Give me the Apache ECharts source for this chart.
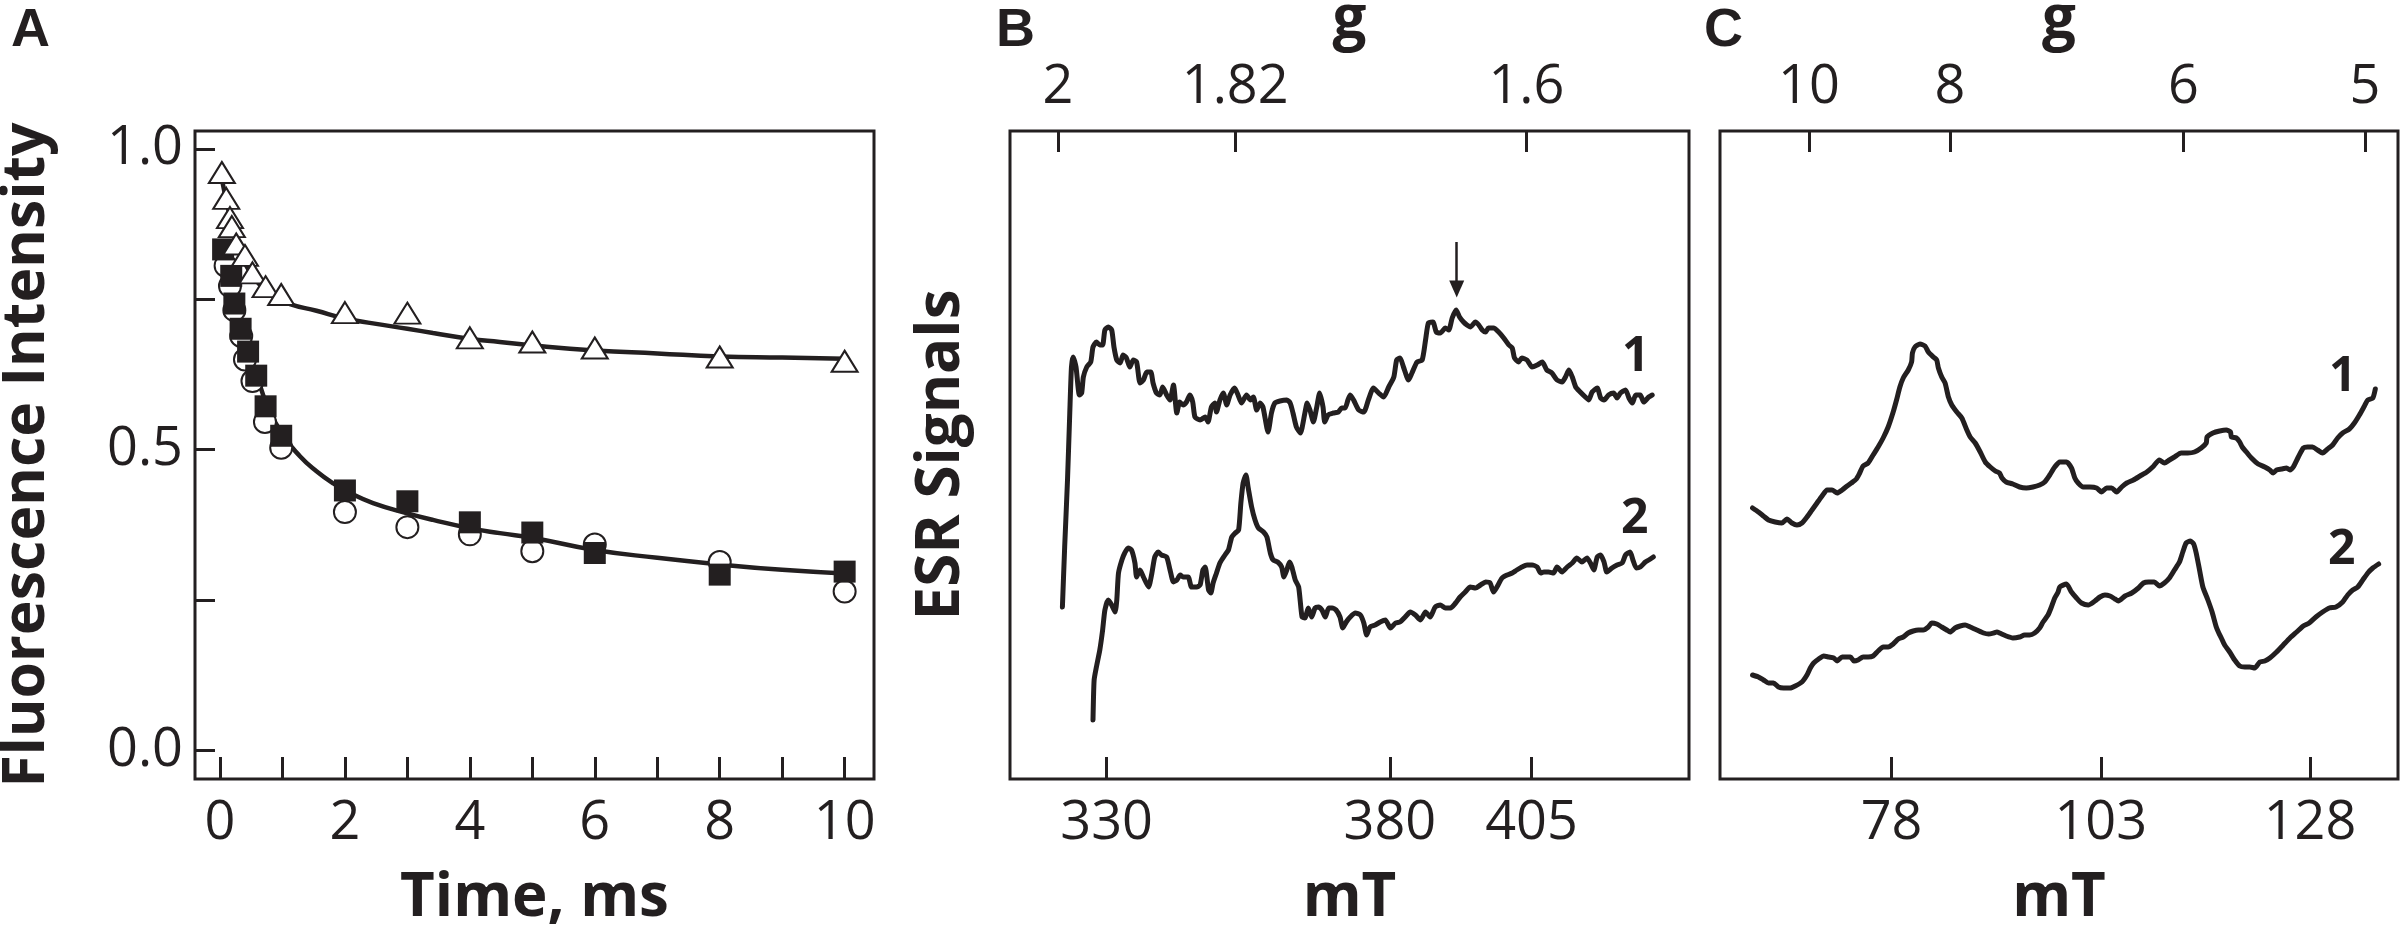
<!DOCTYPE html>
<html>
<head>
<meta charset="utf-8">
<script src="https://cdn.jsdelivr.net/npm/echarts@6/dist/echarts.min.js"></script>
<style>
html,body{margin:0;padding:0;background:#fff;}
#chart{width:2400px;height:937px;}
</style>
</head>
<body>
<div id="chart"></div>
<script>
// ---------- Panel A data ----------
const triT  = [0.03, 0.1, 0.16, 0.19, 0.26, 0.4, 0.52, 0.73, 0.98, 2, 3, 4, 5, 6, 8, 10];
const triV  = [0.961, 0.918, 0.886, 0.871, 0.842, 0.823, 0.794, 0.771, 0.758, 0.728, 0.727, 0.686, 0.679, 0.669, 0.654, 0.647];
const sqT   = [0.05, 0.18, 0.23, 0.33, 0.45, 0.58, 0.73, 0.98, 2, 3, 4, 5, 6, 8, 10];
const sqV   = [0.833, 0.789, 0.743, 0.701, 0.663, 0.623, 0.572, 0.523, 0.432, 0.414, 0.379, 0.362, 0.328, 0.292, 0.297];
const circT = [0.09, 0.16, 0.23, 0.34, 0.40, 0.52, 0.72, 0.98, 2, 3, 4, 5, 6, 8, 10];
const circV = [0.806, 0.772, 0.732, 0.689, 0.650, 0.614, 0.546, 0.503, 0.396, 0.371, 0.359, 0.331, 0.342, 0.313, 0.264];
const fitTopT = [0.03, 0.1, 0.2, 0.3, 0.4, 0.55, 0.75, 1.0, 1.12, 1.545, 1.97, 2.45, 3.0, 3.41, 4.01, 4.48, 5.02, 6, 7, 8, 9, 10];
const fitTopV = [0.95, 0.915, 0.87, 0.835, 0.81, 0.785, 0.765, 0.75, 0.742, 0.731, 0.719, 0.710, 0.701, 0.694, 0.684, 0.679, 0.673, 0.665, 0.66, 0.655, 0.653, 0.651];
const fitBotT = [0.05, 0.15, 0.25, 0.35, 0.45, 0.6, 0.75, 1.0, 1.28, 1.545, 1.81, 2.08, 2.45, 3.0, 3.41, 4.01, 4.48, 5.02, 6, 7, 8, 9, 10];
const fitBotV = [0.83, 0.79, 0.745, 0.70, 0.665, 0.62, 0.575, 0.525, 0.489, 0.464, 0.444, 0.428, 0.411, 0.394, 0.383, 0.369, 0.361, 0.353, 0.333, 0.32, 0.309, 0.30, 0.294];
const aXTicks = [0,1,2,3,4,5,6,7,8,9,10];
const aXLabels = [0,2,4,6,8,10];
const aYTicks = [0,0.25,0.5,0.75,1.0];
const aYLabels = [0,0.5,1.0];

// ---------- Panel B data (field mT, signal a.u.) ----------
const esrB1 = [[322.2,17.2],[322.6,23.2],[323.1,29.9],[323.5,36.6],[323.8,41.2],[324.1,42.2],[324.6,41.2],[325.2,38.4],[325.6,38.6],[325.9,40.2],[326.5,41.2],[327.2,41.7],[327.6,43.2],[328.2,43.7],[328.8,43.4],[329.3,43.4],[329.7,44.9],[330.3,45.2],[330.9,44.9],[331.3,43.2],[331.8,41.9],[332.4,41.6],[332.9,42.4],[333.5,42.1],[334.1,41.2],[334.7,41.9],[335.3,41.7],[335.9,39.6],[336.5,39.9],[337.1,40.7],[337.8,40.7],[338.2,39.6],[338.8,38.6],[339.4,38.4],[339.9,39.2],[340.6,38.4],[341.2,37.9],[341.8,39.4],[342.4,36.6],[342.9,37.7],[343.5,37.4],[344.1,37.7],[344.7,38.4],[345.2,37.7],[345.6,36.2],[346.5,35.9],[347.4,36.2],[347.9,35.7],[348.5,37.2],[349.1,37.6],[349.4,36.7],[350.0,37.9],[350.6,38.6],[351.2,37.4],[351.8,38.4],[352.6,39.1],[353.2,38.4],[353.8,37.6],[354.7,38.4],[355.4,37.9],[355.9,38.2],[356.5,36.9],[357.1,37.6],[357.6,37.2],[358.5,34.7],[359.1,36.6],[359.7,37.6],[360.6,37.8],[361.8,37.9],[362.4,37.6],[362.9,36.6],[363.5,35.2],[364.2,34.6],[365.0,36.6],[365.4,37.6],[365.9,36.9],[366.5,35.7],[367.1,37.2],[367.6,38.6],[368.2,37.2],[368.5,35.7],[369.1,36.4],[370.0,36.6],[370.9,36.7],[371.5,37.1],[372.1,37.1],[372.6,37.9],
[373.0,38.4],[373.6,37.9],[374.5,36.9],[375.4,36.7],[376.2,37.9],[377.1,39.1],[378.0,38.6],[378.9,38.2],[379.8,39.2],[380.7,40.2],[381.2,41.9],[381.8,42.1],[382.4,41.2],[383.3,39.9],[383.9,40.6],[384.8,41.7],[385.7,41.9],[386.3,43.9],[386.8,45.6],[387.6,45.7],[388.2,44.7],[388.9,44.6],[389.8,45.1],[390.4,44.9],[391.0,46.1],[391.7,46.9],[392.3,46.2],[393.0,45.7],[393.6,45.4],[394.2,45.2],[395.1,45.7],[395.7,45.4],[396.3,44.9],[396.9,44.7],[397.4,45.1],[398.3,45.1],[399.2,44.7],[400.1,44.1],[401.0,43.4],[401.6,43.1],[402.0,42.1],[402.7,41.7],[403.3,42.1],[404.2,41.9],[405.1,41.2],[406.0,41.4],[406.9,41.7],[407.7,40.9],[408.6,40.6],[409.5,39.9],[410.4,39.7],[411.0,40.2],[411.6,40.9],[412.2,40.2],[412.8,39.2],[413.6,38.7],[414.5,38.2],[415.1,37.9],[415.7,38.7],[416.6,39.1],[417.2,38.1],[417.8,37.9],[418.6,38.4],[419.5,38.6],[420.1,38.1],[420.7,38.6],[421.6,38.9],[422.2,38.1],[422.8,37.6],[423.4,38.4],[424.2,38.4],[424.8,37.7],[425.7,38.2],[426.3,38.4]];
const esrB2 = [[327.6,5.9],[327.8,9.9],[328.2,11.2],[328.8,12.9],[329.3,14.9],[329.7,16.9],[330.3,17.9],[330.9,17.4],[331.5,16.7],[331.8,17.9],[332.1,20.6],[332.7,21.9],[333.2,22.6],[333.8,23.1],[334.4,22.9],[335.0,21.6],[335.3,20.2],[335.9,20.9],[336.5,20.2],[337.4,19.2],[338.0,20.6],[338.5,22.2],[339.1,22.7],[339.7,22.4],[340.6,22.2],[341.2,20.9],[341.8,19.7],[342.4,19.9],[343.0,20.4],[343.5,20.2],[344.4,20.2],[345.0,19.2],[345.9,19.2],[346.5,19.4],[347.0,20.9],[347.4,21.2],[348.0,18.9],[348.4,18.6],[348.8,19.6],[349.4,20.6],[350.0,21.6],[350.9,22.4],[351.5,22.9],[352.1,24.2],[352.7,24.6],[353.3,24.9],[353.7,27.6],[354.1,29.6],[354.6,30.4],[355.0,29.1],[355.6,27.2],[356.2,25.9],[356.8,25.1],[357.7,24.7],[358.3,24.2],[358.9,22.6],[359.4,21.9],[360.2,21.7],[360.9,21.2],[361.3,20.2],[361.8,20.9],[362.3,21.7],[362.7,21.2],[363.3,19.9],[363.9,19.2],[364.5,16.2],[365.0,16.1],[365.6,17.1],[366.2,16.2],[366.8,17.1],[367.4,17.2],[368.0,16.9],[368.6,16.2],[369.2,17.1],[369.8,17.1],[370.5,16.9],[371.2,16.2],[371.7,15.1],[372.3,15.7],
[373.0,16.2],[373.9,16.6],[374.8,16.4],[375.4,15.6],[375.9,14.4],[376.5,15.2],[377.4,15.4],[378.3,15.7],[379.2,15.9],[380.1,15.1],[381.0,15.6],[381.8,15.7],[382.7,16.2],[383.6,16.7],[384.5,16.4],[385.4,15.9],[386.3,16.7],[387.1,16.2],[388.0,17.2],[388.9,17.4],[389.8,17.1],[390.7,17.1],[391.6,17.6],[392.4,18.2],[393.3,18.7],[394.2,19.2],[395.1,19.1],[396.0,19.4],[396.9,19.7],[397.7,19.6],[398.3,18.7],[398.9,19.2],[399.8,20.1],[400.7,20.4],[401.6,20.6],[402.4,20.9],[403.3,21.2],[404.2,21.4],[405.1,21.4],[406.0,21.2],[406.6,20.6],[407.2,20.7],[408.0,20.7],[408.9,20.6],[409.5,21.2],[410.4,20.7],[411.3,21.2],[412.2,21.6],[413.0,22.1],[413.9,21.7],[414.8,22.1],[415.4,21.6],[416.0,20.9],[416.6,22.2],[417.2,22.4],[417.8,21.7],[418.3,20.7],[419.2,21.1],[420.1,21.4],[421.0,21.6],[421.6,22.4],[422.4,22.7],[422.9,21.9],[423.5,21.1],[424.2,21.2],[425.1,21.7],[425.7,21.9],[426.5,22.2]];
const bBottomTicks = [330, 380, 405];
const bTopPos = [321.4, 352.7, 404.1];
const bTopLabels = ['2', '1.82', '1.6'];
const bArrow = [[391.8, 53.7], [391.8, 49.0]];
const bTraceLabels = [{name:'1', value:[423.4, 42.2]}, {name:'2', value:[423.2, 26.0]}];

// ---------- Panel C data ----------
const esrC1 = [[61.4,27.1],[62.1,26.7],[62.7,26.3],[63.3,25.9],[64.1,25.7],[64.9,25.6],[65.5,26.0],[66.1,25.6],[66.7,25.4],[67.3,25.6],[67.9,26.2],[68.5,26.9],[69.1,27.6],[69.7,28.3],[70.3,28.9],[70.9,28.9],[71.5,28.6],[72.1,28.9],[72.7,29.3],[73.2,29.6],[73.8,30.0],[74.2,30.6],[74.6,31.3],[75.2,31.6],[75.8,32.4],[76.4,33.2],[77.0,34.1],[77.6,35.2],[78.2,36.7],[78.6,37.9],[79.0,39.2],[79.4,40.1],[80.0,40.9],[80.4,41.7],[80.5,42.6],[80.8,43.2],[81.4,43.5],[82.0,43.3],[82.4,42.7],[83.0,42.2],[83.4,41.9],[83.6,41.1],[84.0,40.2],[84.4,39.6],[84.8,38.2],[85.2,37.4],[85.8,36.7],[86.4,36.1],[87.0,34.9],[87.4,34.2],[88.0,33.6],[88.6,32.7],[89.2,31.7],[89.8,31.2],[90.4,30.8],[90.9,30.6],[91.2,30.1],[91.7,29.7],[92.5,29.5],[93.3,29.2],[94.1,29.1],[94.9,29.2],[95.7,29.4],[96.3,29.7],[96.9,30.4],[97.5,31.2],
[98.1,31.7],[98.9,31.7],[99.5,31.1],[99.9,30.1],[100.3,29.6],[100.9,29.2],[101.7,29.2],[102.5,29.1],[103.1,28.7],[103.7,29.1],[104.3,29.1],[104.9,28.7],[105.5,29.2],[106.1,29.6],[106.9,29.9],[107.7,30.3],[108.5,30.7],[109.2,31.2],[110.0,31.9],[110.6,31.6],[111.2,31.9],[111.8,32.2],[112.6,32.6],[113.4,32.6],[114.2,32.7],[115.0,33.1],[115.6,33.6],[115.7,34.2],[116.4,34.6],[117.2,34.8],[118.0,34.9],[118.5,34.7],[118.6,34.2],[119.2,34.1],[119.6,33.7],[119.9,33.2],[120.4,32.7],[121.0,32.1],[121.8,31.5],[122.6,31.2],[123.2,30.9],[123.6,30.6],[124.0,30.9],[124.6,31.0],[125.2,31.1],[125.6,30.9],[126.0,31.2],[126.6,32.2],[127.2,33.1],[127.7,33.2],[128.3,33.2],[128.9,32.9],[129.5,32.6],[130.1,33.0],[130.7,33.4],[131.3,34.1],[131.9,34.6],[132.7,35.0],[133.3,35.6],[133.9,36.4],[134.5,37.3],[134.9,37.9],[135.5,38.1],[135.8,39.0]];
const esrC2 = [[61.4,10.4],[62.1,10.2],[62.7,9.9],[63.3,9.6],[63.9,9.6],[64.5,9.2],[65.1,9.1],[65.9,9.1],[66.5,9.3],[67.3,9.7],[67.9,10.4],[68.3,11.1],[68.7,11.6],[69.3,12.0],[69.9,12.3],[70.5,12.2],[71.1,12.1],[71.5,11.8],[72.1,12.2],[72.7,12.2],[73.1,12.2],[73.5,11.8],[74.0,11.9],[74.6,12.2],[75.2,12.2],[75.8,12.3],[76.4,12.8],[77.0,13.2],[77.6,13.2],[78.2,13.5],[78.8,14.0],[79.4,14.2],[80.0,14.6],[80.6,14.8],[81.2,14.9],[81.8,14.9],[82.4,15.2],[82.8,15.6],[83.4,15.5],[84.0,15.2],[84.6,14.9],[85.0,14.7],[85.6,15.1],[86.2,15.3],[86.8,15.4],[87.4,15.2],[88.2,14.9],[89.0,14.6],[89.6,14.5],[90.2,14.6],[90.6,14.7],[90.9,14.6],[91.7,14.3],[92.5,14.1],[93.3,14.2],[93.9,14.4],[94.5,14.4],[95.1,14.6],[95.7,15.1],[96.1,15.7],[96.7,16.4],[97.1,17.2],[97.5,18.1],[97.9,18.7],
[98.1,19.2],[98.9,19.5],[99.5,18.7],[100.1,18.1],[100.7,17.6],[101.5,17.4],[102.3,17.8],[102.9,18.2],[103.5,18.4],[104.1,18.3],[104.7,18.0],[105.1,17.8],[105.9,18.3],[106.7,18.6],[107.5,19.1],[108.1,19.6],[108.7,19.7],[109.4,19.7],[110.0,19.3],[110.6,19.6],[111.2,20.1],[111.8,20.9],[112.4,21.7],[112.8,22.7],[113.2,23.6],[113.7,23.8],[114.1,23.5],[114.4,22.6],[114.8,20.9],[115.2,19.2],[115.8,17.9],[116.3,16.7],[116.8,15.2],[117.1,14.6],[117.4,14.1],[117.8,13.4],[118.4,12.7],[119.0,11.9],[119.6,11.3],[120.2,11.2],[120.8,11.2],[121.4,11.1],[122.0,11.7],[122.6,11.8],[123.2,12.1],[124.0,12.7],[124.8,13.4],[125.6,14.1],[126.4,14.7],[127.2,15.3],[127.9,15.6],[128.7,16.2],[129.5,16.7],[130.3,17.1],[131.1,17.2],[131.9,17.7],[132.5,18.4],[133.1,18.9],[133.7,19.2],[134.3,19.9],[134.9,20.6],[135.5,21.1],[136.2,21.5]];
const cBottomTicks = [78, 103, 128];
const cTopPos = [68.14, 84.99, 112.89, 134.57];
const cTopLabels = ['10', '8', '6', '5'];
const cTraceLabels = [{name:'1', value:[131.9, 40.2]}, {name:'2', value:[131.8, 22.9]}];

// ---------- styling ----------
const INK = '#231f20';
const FONT = 'Open Sans';
const zip = (a, b) => a.map((v, i) => [v, b[i]]);
const nearestLabel = (pos, labels) => v => {
  let best = 0, d = Infinity;
  pos.forEach((p, i) => { if (Math.abs(p - v) < d) { d = Math.abs(p - v); best = i; } });
  return labels[best];
};

const noLine = {show: false, onZero: false};
const tickStyle = (vals, len) => ({show: true, inside: true, length: len, customValues: vals, lineStyle: {color: INK, width: 3}});
const lblStyle = (vals, fmt, margin) => ({show: true, customValues: vals, formatter: fmt, fontFamily: FONT, fontSize: 54, color: INK, margin: margin});
const nameStyle = {fontFamily: FONT, fontSize: 60, fontWeight: 'bold', color: INK};
const traceStyle = {color: INK, width: 5, join: 'round', cap: 'round'};
const labelSeries = (xi, yi, data) => ({
  type: 'scatter', xAxisIndex: xi, yAxisIndex: yi, data: data, symbolSize: 1, z: 6,
  itemStyle: {color: 'rgba(255,255,255,0)', opacity: 1},
  label: {show: true, position: 'inside', formatter: '{b}', fontFamily: FONT, fontWeight: 'bold',
          fontSize: 48, color: INK, textBorderWidth: 0, opacity: 1}
});

const grids = [
  {left: 195, top: 131, width: 679, height: 648},
  {left: 1010, top: 131, width: 679, height: 648},
  {left: 1720, top: 131, width: 678, height: 648}
].map(g => Object.assign(g, {show: true, borderColor: INK, borderWidth: 3, backgroundColor: 'transparent',
                              containLabel: false, outerBoundsMode: 'none'}));

const option = {
  animation: false,
  backgroundColor: '#ffffff',
  grid: grids,
  xAxis: [
    {gridIndex: 0, type: 'value', min: -0.40, max: 10.47, position: 'bottom',
     axisLine: noLine, splitLine: {show: false},
     axisTick: tickStyle(aXTicks, 22),
     axisLabel: lblStyle(aXLabels, v => String(v), 18),
     name: 'Time, ms', nameLocation: 'middle', nameGap: 90, nameTextStyle: nameStyle},
    {gridIndex: 1, type: 'value', min: 312.95, max: 432.8, position: 'bottom',
     axisLine: noLine, splitLine: {show: false},
     axisTick: tickStyle(bBottomTicks, 22),
     axisLabel: lblStyle(bBottomTicks, v => String(v), 18),
     name: 'mT', nameLocation: 'middle', nameGap: 90, nameTextStyle: nameStyle},
    {gridIndex: 1, type: 'value', min: 312.95, max: 432.8, position: 'top',
     axisLine: noLine, splitLine: {show: false},
     axisTick: tickStyle(bTopPos, 21),
     axisLabel: lblStyle(bTopPos, nearestLabel(bTopPos, bTopLabels), 16),
     name: 'g', nameLocation: 'middle', nameGap: 80, nameTextStyle: nameStyle},
    {gridIndex: 2, type: 'value', min: 57.51, max: 138.51, position: 'bottom',
     axisLine: noLine, splitLine: {show: false},
     axisTick: tickStyle(cBottomTicks, 22),
     axisLabel: lblStyle(cBottomTicks, v => String(v), 18),
     name: 'mT', nameLocation: 'middle', nameGap: 90, nameTextStyle: nameStyle},
    {gridIndex: 2, type: 'value', min: 57.51, max: 138.51, position: 'top',
     axisLine: noLine, splitLine: {show: false},
     axisTick: tickStyle(cTopPos, 21),
     axisLabel: lblStyle(cTopPos, nearestLabel(cTopPos, cTopLabels), 16),
     name: 'g', nameLocation: 'middle', nameGap: 80, nameTextStyle: nameStyle}
  ],
  yAxis: [
    {gridIndex: 0, type: 'value', min: -0.048, max: 1.03,
     axisLine: noLine, splitLine: {show: false},
     axisTick: tickStyle(aYTicks, 20),
     axisLabel: lblStyle(aYLabels, v => v.toFixed(1), 12),
     name: 'Fluorescence Intensity', nameLocation: 'middle', nameGap: 138,
     nameTextStyle: Object.assign({}, nameStyle, {fontSize: 59})},
    {gridIndex: 1, type: 'value', min: 0, max: 64.8,
     axisLine: noLine, splitLine: {show: false},
     axisTick: {show: false}, axisLabel: {show: false},
     name: 'ESR Signals', nameLocation: 'middle', nameGap: 38, nameTextStyle: nameStyle},
    {gridIndex: 2, type: 'value', min: 0, max: 64.8,
     axisLine: noLine, splitLine: {show: false},
     axisTick: {show: false}, axisLabel: {show: false}}
  ],
  graphic: [
    {type: 'text', left: 11, top: 4, style: {text: 'A', font: 'bold 54px "Liberation Sans"', fill: INK}},
    {type: 'text', left: 996, top: 4, style: {text: 'B', font: 'bold 54px "Liberation Sans"', fill: INK}},
    {type: 'text', left: 1704, top: 4, style: {text: 'C', font: 'bold 54px "Liberation Sans"', fill: INK}}
  ],
  series: [
    {type: 'line', xAxisIndex: 0, yAxisIndex: 0, data: zip(fitTopT, fitTopV), smooth: true, showSymbol: false, z: 2,
     lineStyle: {color: INK, width: 4.5}},
    {type: 'line', xAxisIndex: 0, yAxisIndex: 0, data: zip(fitBotT, fitBotV), smooth: true, showSymbol: false, z: 2,
     lineStyle: {color: INK, width: 4.5}},
    {type: 'scatter', xAxisIndex: 0, yAxisIndex: 0, data: zip(circT, circV), symbol: 'circle', symbolSize: 22, z: 3,
     itemStyle: {color: '#ffffff', borderColor: INK, borderWidth: 2, opacity: 1}},
    {type: 'scatter', xAxisIndex: 0, yAxisIndex: 0, data: zip(sqT, sqV), symbol: 'rect', symbolSize: 22, z: 4,
     itemStyle: {color: INK, opacity: 1}},
    {type: 'scatter', xAxisIndex: 0, yAxisIndex: 0, data: zip(triT, triV), symbol: 'triangle', symbolSize: [26, 21], z: 5,
     itemStyle: {color: '#ffffff', borderColor: INK, borderWidth: 2, opacity: 1}},

    {type: 'line', xAxisIndex: 1, yAxisIndex: 1, data: esrB1, smooth: 0.2, showSymbol: false, lineStyle: traceStyle,
     markLine: {silent: true, symbol: ['none', 'triangle'], symbolSize: [15, 17], label: {show: false},
       lineStyle: {color: INK, width: 2.5, type: 'solid'},
       data: [[{coord: bArrow[0]}, {coord: bArrow[1]}]]}},
    {type: 'line', xAxisIndex: 1, yAxisIndex: 1, data: esrB2, smooth: 0.2, showSymbol: false, lineStyle: traceStyle},
    labelSeries(1, 1, bTraceLabels),

    {type: 'line', xAxisIndex: 3, yAxisIndex: 2, data: esrC1, smooth: 0.2, showSymbol: false, lineStyle: traceStyle},
    {type: 'line', xAxisIndex: 3, yAxisIndex: 2, data: esrC2, smooth: 0.2, showSymbol: false, lineStyle: traceStyle},
    labelSeries(3, 2, cTraceLabels)
  ]
};

const chart = echarts.init(document.getElementById('chart'), null, {renderer: 'canvas'});
chart.setOption(option);
</script>
</body>
</html>
